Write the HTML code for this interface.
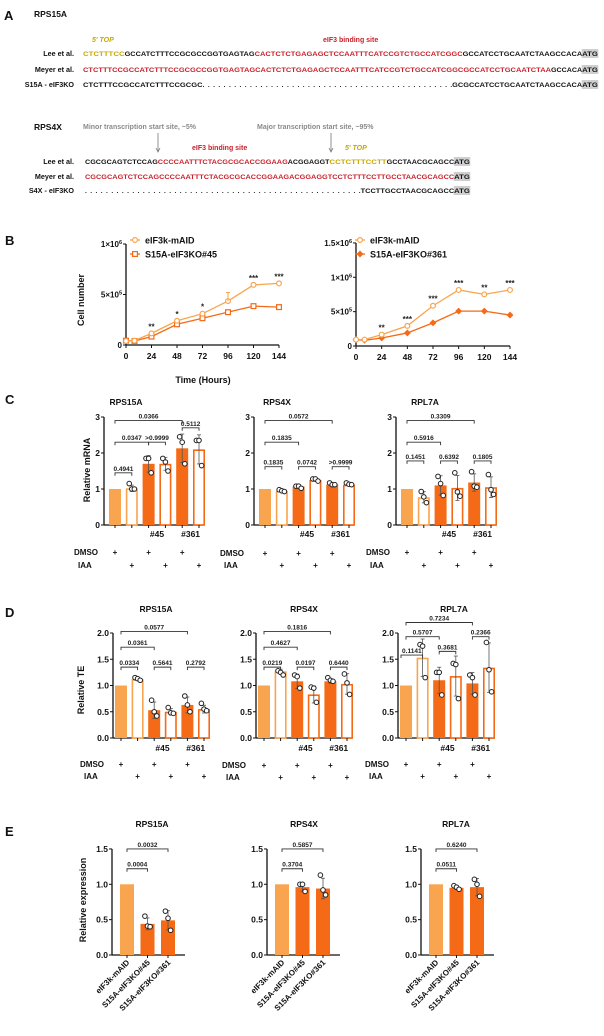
<!DOCTYPE html>
<html><head><meta charset="utf-8"><style>
html,body{margin:0;padding:0;background:#fff;}
svg{display:block;font-family:"Liberation Sans",Arial,sans-serif;font-weight:bold;}
</style></head><body>
<svg id="fig" width="604" height="1036" viewBox="0 0 604 1036" xmlns="http://www.w3.org/2000/svg"></svg>
<script>
// ---------- DATA ----------
const bTimes=[0,8,24,48,72,96,120,144];
const bLeftCtrl=[0.04,0.043,0.115,0.24,0.31,0.435,0.595,0.61];
const bLeftKO=[0.043,0.04,0.083,0.205,0.265,0.325,0.385,0.375];
const bRightCtrl=[0.093,0.093,0.166,0.293,0.586,0.816,0.752,0.816];
const bRightKO=[0.093,0.083,0.117,0.19,0.337,0.508,0.508,0.45];
const bLeftStars=[[24,'**'],[48,'*'],[72,'*'],[120,'***'],[144,'***']];
const bRightStars=[[24,'**'],[48,'***'],[72,'***'],[96,'***'],[120,'**'],[144,'***']];
const bTickLabels=['0','24','48','72','96','120','144'];

const cMeans15=[1,1.02,1.7,1.7,2.13,2.1];
const cPts15=[[1],[1.15,1.0,1.0],[1.85,1.85,1.45],[1.85,1.75,1.5],[2.45,2.3,1.7],[2.35,2.35,1.65]];
const cMeans4=[1,0.95,1.07,1.25,1.12,1.12];
const cPts4=[[1],[0.98,0.95,0.93],[1.08,1.08,1.02],[1.28,1.28,1.22],[1.17,1.12,1.12],[1.17,1.13,1.12]];
const cMeans7=[1,0.77,1.1,1.03,1.18,1.05];
const cPts7=[[1],[0.93,0.78,0.62],[1.35,1.15,0.82],[1.45,0.92,0.8],[1.48,1.08,1.05],[1.4,0.98,0.85]];
const cBr15=[[0,4,2.9,'0.0366'],[4,5,2.7,'0.5112'],[0,2,2.3,'0.0347'],[2,3,2.3,'>0.9999'],[0,1,1.45,'0.4941']];
const cBr4=[[0,4,2.9,'0.0572'],[0,2,2.3,'0.1835'],[0,1,1.62,'0.1835'],[2,3,1.62,'0.0742'],[4,5,1.62,'>0.9999']];
const cBr7=[[0,4,2.9,'0.3309'],[0,2,2.3,'0.5916'],[0,1,1.78,'0.1451'],[2,3,1.78,'0.6392'],[4,5,1.78,'0.1805']];

const dMeans15=[1,1.12,0.53,0.5,0.63,0.55];
const dPts15=[[1],[1.15,1.13,1.1],[0.72,0.5,0.42],[0.58,0.48,0.47],[0.8,0.63,0.5],[0.66,0.55,0.52]];
const dMeans4=[1,1.27,1.08,0.83,1.08,1.03];
const dPts4=[[1],[1.28,1.25,1.2],[1.2,1.17,0.95],[0.97,0.95,0.68],[1.15,1.1,1.08],[1.22,1.05,0.83]];
const dMeans7=[1,1.53,1.1,1.18,1.04,1.34];
const dPts7=[[1],[1.78,1.75,1.15],[1.25,1.25,0.82],[1.42,1.4,0.75],[1.2,1.15,0.82],[1.82,1.3,0.88]];
const dBr15=[[0,4,2.03,'0.0577'],[0,2,1.73,'0.0361'],[0,1,1.35,'0.0334'],[2,3,1.35,'0.5641'],[4,5,1.35,'0.2792']];
const dBr4=[[0,4,2.03,'0.1816'],[0,2,1.73,'0.4627'],[0,1,1.35,'0.0219'],[2,3,1.35,'0.0197'],[4,5,1.35,'0.6440']];
const dBr7=[[0,4,2.2,'0.7234'],[0,2,1.93,'0.5707'],[2,3,1.65,'0.3681'],[4,5,1.93,'0.2366'],[-0.5,1,1.58,'0.1141']];

const eMeans15=[1,0.44,0.49];
const ePts15=[[1],[0.55,0.41,0.4],[0.62,0.52,0.35]];
const eMeans4=[1,0.96,0.94];
const ePts4=[[1],[1.0,1.0,0.9],[1.13,0.92,0.85]];
const eMeans7=[1,0.95,0.96];
const ePts7=[[1],[0.98,0.96,0.93],[1.07,1.0,0.83]];
const eBr15=[[0,2,1.5,'0.0032'],[0,1,1.22,'0.0004']];
const eBr4=[[0,2,1.5,'0.5857'],[0,1,1.22,'0.3704']];
const eBr7=[[0,2,1.5,'0.6240'],[0,1,1.22,'0.0511']];
const eCats=['eIF3k-mAID','S15A-eIF3KO#45','S15A-eIF3KO#361'];

// ---------- HELPERS ----------
const NS='http://www.w3.org/2000/svg';
const svg=document.getElementById('fig');
const LIGHT='#F9A44E', DARK='#F56A16';
function mk(tag,parent){const e=document.createElementNS(NS,tag);(parent||svg).appendChild(e);return e;}
function txt(parent,x,y,s,size,fill,anchor){
  const t=mk('text',parent);t.setAttribute('x',x);t.setAttribute('y',y);
  t.setAttribute('font-size',size);t.setAttribute('fill',fill||'#111');
  if(anchor)t.setAttribute('text-anchor',anchor);t.textContent=s;return t;}
function line(parent,x1,y1,x2,y2,col,w){
  const l=mk('line',parent);l.setAttribute('x1',x1);l.setAttribute('y1',y1);l.setAttribute('x2',x2);l.setAttribute('y2',y2);
  l.setAttribute('stroke',col||'#111');l.setAttribute('stroke-width',w||1);return l;}

// ---------- PANEL A ----------
const A=mk('g');
let t;
t=txt(A,4,20,'A',13,'#111');
t=txt(A,34,17,'RPS15A',8.5,'#111');
t=txt(A,34,130,'RPS4X',8.5,'#111');
const RED='#C8202A', YEL='#C9A800', GRAY='#8a8a8a';
t=txt(A,92,42,"5' TOP",7,YEL);t.setAttribute('font-style','italic');
t=txt(A,323,42,'eIF3 binding site',7,RED);
t=txt(A,83,129,'Minor transcription start site, ~5%',7,GRAY);
t=txt(A,257,129,'Major transcription start site, ~95%',7,GRAY);
t=txt(A,192,150,'eIF3 binding site',7,RED);
t=txt(A,345,150,"5' TOP",7,YEL);t.setAttribute('font-style','italic');
[[158],[331]].forEach(([x],i)=>{
  const g=mk('g',A);
  line(g,x,133,x,151,'#777',0.8);
  const p=mk('path',g);p.setAttribute('d',`M${x-2} ${148} L${x} ${152} L${x+2} ${148}`);p.setAttribute('fill','none');p.setAttribute('stroke','#777');p.setAttribute('stroke-width',0.8);
});
function seqRow(label,name,x0,y,pitch,segs){
  const g=mk('g',A);
  txt(g,74,y,label,7.2,'#111','end');
  let i=0;
  segs.forEach(([s,c,shade])=>{
    const x=x0+i*pitch;
    if(shade){const r=mk('rect',g);r.setAttribute('x',x-0.5);r.setAttribute('y',y-7);r.setAttribute('width',s.length*pitch+1);r.setAttribute('height',9);r.setAttribute('fill','#cfcfcf');}
    const tt=txt(g,x,y,s,6.6,c);tt.setAttribute('textLength',s.length*pitch);
    tt.setAttribute('lengthAdjust',s[0]==='.'?'spacing':'spacingAndGlyphs');
    i+=s.length;
  });
}
const P=5.2, K='#111';
seqRow('Lee et al.','rps15a-lee-seq',83,56,P,[['CTCTTTCC',YEL],['GCCATCTTTCCGCGCCGGTGAGTAG',K],['CACTCTCTGAGAGCTCCAATTTCATCCGTCTGCCATCGGC',RED],['GCCATCCTGCAATCTAAGCCACA',K],['ATG',K,1]]);
seqRow('Meyer et al.','rps15a-meyer-seq',83,72,P,[['CTCTTTCCGCCATCTTTCCGCGCCGGTGAGTAGCACTCTCTGAGAGCTCCAATTTCATCCGTCTGCCATCGGCGCCATCCTGCAATCTAA',RED],['GCCACA',K],['ATG',K,1]]);
seqRow('S15A - eIF3KO','rps15a-ko-seq',83,87,P,[['CTCTTTCCGCCATCTTTCCGCGC',K],['.'.repeat(48),K],['GCGCCATCCTGCAATCTAAGCCACA',K],['ATG',K,1]]);
seqRow('Lee et al.','rps4x-lee-seq',85,164,P,[['CGCGCAGTCTCCAG',K],['CCCCAATTTCTACGCGCACCGGAAG',RED],['ACGGAGGT',K],['CCTCTTTCCTT',YEL],['GCCTAACGCAGCC',K],['ATG',K,1]]);
seqRow('Meyer et al.','rps4x-meyer-seq',85,179,P,[['CGCGCAGTCTCCAGCCCCAATTTCTACGCGCACCGGAAGACGGAGGTCCTCTTTCCTTGCCTAACGCAGCC',RED],['ATG',K,1]]);
seqRow('S4X - eIF3KO','rps4x-ko-seq',85,193,P,[['.'.repeat(53),K],['TCCTTGCCTAACGCAGCC',K],['ATG',K,1]]);

// ---------- PANEL B ----------
t=txt(svg,5,245,'B',13,'#111');
t=txt(svg,0,0,'Cell number',9,'#111','middle');t.setAttribute('transform','translate(84,300) rotate(-90)');
t=txt(svg,203,383,'Time (Hours)',9,'#111','middle');
function lineChart(name,ax,axEnd,y0,pxPerM,yTicks,ctrl,ko,stars,koLabel,koShape){
  const g=mk('g');
  const X=v=>ax+v/144*(axEnd-ax), Y=v=>y0-v*pxPerM;
  const yTop=Y(yTicks[yTicks.length-1][0]);
  line(g,ax,yTop,ax,y0,'#111',1.3);line(g,ax,y0,axEnd,y0,'#111',1.3);
  yTicks.forEach(([v,base,exp])=>{
    line(g,ax-3,Y(v),ax,Y(v),'#111',1);
    const tt=txt(g,ax-4,Y(v)+3,base,8,'#111','end');
    if(exp){const sp=document.createElementNS(NS,'tspan');sp.setAttribute('font-size',5.5);sp.setAttribute('dy',-3);sp.textContent=exp;tt.appendChild(sp);}
    
  });
  bTickLabels.forEach(s=>{const v=+s;line(g,X(v),y0,X(v),y0+3,'#111',1);const tt=txt(g,X(v),y0+14,s,8.5,'#111','middle');});
  function series(vals,col,shape,sname){
    const sg=mk('g',g);
    const pl=mk('polyline',sg);pl.setAttribute('points',vals.map((v,i)=>X(bTimes[i])+','+Y(v)).join(' '));pl.setAttribute('fill','none');pl.setAttribute('stroke',col);pl.setAttribute('stroke-width',1.3);
    vals.forEach((v,i)=>{const x=X(bTimes[i]),y=Y(v);let m;
      if(shape==='c'){m=mk('circle',sg);m.setAttribute('cx',x);m.setAttribute('cy',y);m.setAttribute('r',2.4);m.setAttribute('fill','#fff');}
      else if(shape==='s'){m=mk('rect',sg);m.setAttribute('x',x-2.4);m.setAttribute('y',y-2.4);m.setAttribute('width',4.8);m.setAttribute('height',4.8);m.setAttribute('fill','#fff');}
      else {m=mk('path',sg);m.setAttribute('d',`M${x} ${y-2.6}L${x+2.6} ${y}L${x} ${y+2.6}L${x-2.6} ${y}Z`);m.setAttribute('fill',col);}
      m.setAttribute('stroke',col);m.setAttribute('stroke-width',1.2);
      });
    return sg;}
  series(ko,DARK,koShape,'ko-series');
  series(ctrl,LIGHT,'c','control-series');
  stars.forEach(([tm,s])=>{const i=bTimes.indexOf(tm);const v=Math.max(ctrl[i],ko[i]);const tt=txt(g,X(tm),Y(v)-4,s,8,'#222','middle');});
  const lg=mk('g',g);
  const lx=ax+(name==='b-left-chart'?9:4);
  [[240,LIGHT,'c','eIF3k-mAID'],[254,DARK,koShape,koLabel]].forEach(([ly,col,sh,lab])=>{
    const e=mk('g',lg);
    line(e,lx-5,ly,lx+5,ly,col,1.3);
    let m;
    if(sh==='c'){m=mk('circle',e);m.setAttribute('cx',lx);m.setAttribute('cy',ly);m.setAttribute('r',2.4);m.setAttribute('fill','#fff');}
    else if(sh==='s'){m=mk('rect',e);m.setAttribute('x',lx-2.4);m.setAttribute('y',ly-2.4);m.setAttribute('width',4.8);m.setAttribute('height',4.8);m.setAttribute('fill','#fff');}
    else {m=mk('path',e);m.setAttribute('d',`M${lx} ${ly-2.6}L${lx+2.6} ${ly}L${lx} ${ly+2.6}L${lx-2.6} ${ly}Z`);m.setAttribute('fill',col);}
    m.setAttribute('stroke',col);m.setAttribute('stroke-width',1.2);
    txt(e,lx+10,ly+3.5,lab,9,'#111');
  });
  return {g,X,Y};
}
const bl=lineChart('b-left-chart',126,279,345,101,[[0,'0'],[0.5,'5×10','5'],[1,'1×10','6']],bLeftCtrl,bLeftKO,bLeftStars,'S15A-eIF3KO#45','s');
(function(){const i=bTimes.indexOf(96);const x=bl.X(96);line(bl.g,x,bl.Y(bLeftCtrl[i]),x,bl.Y(bLeftCtrl[i]+0.085),LIGHT,1);line(bl.g,x-2,bl.Y(bLeftCtrl[i]+0.085),x+2,bl.Y(bLeftCtrl[i]+0.085),LIGHT,1);})();
lineChart('b-right-chart',356,510,346,68.7,[[0,'0'],[0.5,'5×10','5'],[1,'1×10','6'],[1.5,'1.5×10','6']],bRightCtrl,bRightKO,bRightStars,'S15A-eIF3KO#361','d');

// ---------- BAR CHARTS ----------
function sd(a){if(a.length<2)return 0;const m=a.reduce((s,v)=>s+v,0)/a.length;return Math.sqrt(a.reduce((s,v)=>s+(v-m)*(v-m),0)/(a.length-1));}
function barChart(cfg){
  const g=mk('g');
  const Y=v=>cfg.y0-v*cfg.unit, BX=i=>cfg.ax+cfg.off+i*cfg.step;
  const yTop=Y(cfg.ticks[cfg.ticks.length-1]);
  line(g,cfg.ax,yTop,cfg.ax,cfg.y0,'#111',1.3);line(g,cfg.ax,cfg.y0,cfg.ax+cfg.len,cfg.y0,'#111',1.3);
  cfg.ticks.forEach((v,k)=>{line(g,cfg.ax-3,Y(v),cfg.ax,Y(v),'#111',1);const tt=txt(g,cfg.ax-4,Y(v)+3,cfg.tickLabels[k],8.5,'#111','end');});
  const tt=txt(g,cfg.titleX,cfg.titleY,cfg.title,8.5,'#111','middle');
  cfg.means.forEach((m,i)=>{
    const x=BX(i), style=cfg.styles[i];
    const r=mk('rect',g);
    
    
    const col=style[0]==='L'?LIGHT:DARK;
    if(style[1]==='f'){r.setAttribute('x',x-cfg.bw/2);r.setAttribute('y',Y(m));r.setAttribute('width',cfg.bw);r.setAttribute('height',cfg.y0-Y(m));r.setAttribute('fill',col);}
    else{r.setAttribute('x',x-cfg.bw/2+0.8);r.setAttribute('y',Y(m)+0.8);r.setAttribute('width',cfg.bw-1.6);r.setAttribute('height',Math.max(0,cfg.y0-Y(m)-0.8));r.setAttribute('fill','#fff');r.setAttribute('stroke',col);r.setAttribute('stroke-width',1.6);}
    const pts=cfg.pts[i];const s=sd(pts);
    if(s>0){line(g,x,Y(m-s),x,Y(m+s),'#555',0.8);line(g,x-2,Y(m+s),x+2,Y(m+s),'#555',0.8);line(g,x-2,Y(m-s),x+2,Y(m-s),'#555',0.8);}
    if(pts.length>1)pts.forEach((v,k)=>{const c=mk('circle',g);c.setAttribute('cx',x+(k-1)*2.6);c.setAttribute('cy',Y(v));c.setAttribute('r',2.3);c.setAttribute('fill','#fff');c.setAttribute('stroke','#222');c.setAttribute('stroke-width',1);
      
      });
    line(g,x,cfg.y0,x,cfg.y0+3,'#111',1);
  });
  cfg.brackets.forEach(([i,j,v,lab])=>{
    const bg=mk('g',g);
    const x1=i<0?cfg.ax+3:BX(i), x2=BX(j), y=Y(v);
    const p=mk('path',bg);p.setAttribute('d',`M${x1} ${y+3}V${y}H${x2}V${y+3}`);p.setAttribute('fill','none');p.setAttribute('stroke','#333');p.setAttribute('stroke-width',0.9);
    txt(bg,(x1+x2)/2,y-2,lab,6.5,'#222','middle');
  });
  if(cfg.cond){
    const c=cfg.cond;
    let q=txt(g,(BX(2)+BX(3))/2,c.hashY,'#45',8.5,'#111','middle');
    q=txt(g,(BX(4)+BX(5))/2,c.hashY,'#361',8.5,'#111','middle');
    q=txt(g,c.lx,c.dY,'DMSO',8,'#111');
    q=txt(g,c.lx+4,c.iY,'IAA',8,'#111');
    [0,2,4].forEach(i=>{const p=txt(g,BX(i),c.dY,'+',8,'#111','middle');});
    [1,3,5].forEach(i=>{const p=txt(g,BX(i),c.iY,'+',8,'#111','middle');});
  }
  if(cfg.cats){
    cfg.cats.forEach((s,i)=>{const x=BX(i)+3,y=cfg.y0+8;const q=txt(g,0,0,s,8,'#111','end');q.setAttribute('transform',`translate(${x},${y}) rotate(-45)`);});
  }
  return g;
}
const six=['Lf','Lo','Df','Do','Df','Do'];
// Panel C
t=txt(svg,5,404,'C',13,'#111');
t=txt(svg,0,0,'Relative mRNA',9,'#111','middle');t.setAttribute('transform','translate(90,470) rotate(-90)');
const cBase={y0:525,unit:36,ticks:[0,1,2,3],tickLabels:['0','1','2','3'],off:11,step:16.8,bw:12,len:100,titleY:405,styles:six};
barChart(Object.assign({},cBase,{name:'c-rps15a-chart',ax:104,titleX:126,title:'RPS15A',means:cMeans15,pts:cPts15,brackets:cBr15,cond:{hashY:537,dY:555,iY:568,lx:74}}));
barChart(Object.assign({},cBase,{name:'c-rps4x-chart',ax:254,titleX:277,title:'RPS4X',means:cMeans4,pts:cPts4,brackets:cBr4,cond:{hashY:537,dY:556,iY:568,lx:220}}));
barChart(Object.assign({},cBase,{name:'c-rpl7a-chart',ax:396,titleX:425,title:'RPL7A',means:cMeans7,pts:cPts7,brackets:cBr7,cond:{hashY:537,dY:555,iY:568,lx:366}}));
// Panel D
t=txt(svg,5,617,'D',13,'#111');
t=txt(svg,0,0,'Relative TE',9,'#111','middle');t.setAttribute('transform','translate(84,690) rotate(-90)');
const dBase={y0:738,unit:52.5,ticks:[0,0.5,1,1.5,2],tickLabels:['0.0','0.5','1.0','1.5','2.0'],off:8,step:16.6,bw:12,len:97,titleY:612,styles:six};
barChart(Object.assign({},dBase,{name:'d-rps15a-chart',ax:113,titleX:156,title:'RPS15A',means:dMeans15,pts:dPts15,brackets:dBr15,cond:{hashY:751,dY:767,iY:779,lx:80}}));
barChart(Object.assign({},dBase,{name:'d-rps4x-chart',ax:256,titleX:304,title:'RPS4X',means:dMeans4,pts:dPts4,brackets:dBr4,cond:{hashY:751,dY:768,iY:780,lx:222}}));
barChart(Object.assign({},dBase,{name:'d-rpl7a-chart',ax:398,titleX:454,title:'RPL7A',means:dMeans7,pts:dPts7,brackets:dBr7,cond:{hashY:751,dY:767,iY:779,lx:365}}));
// Panel E
t=txt(svg,5,836,'E',13,'#111');
t=txt(svg,0,0,'Relative expression',9,'#111','middle');t.setAttribute('transform','translate(86,900) rotate(-90)');
const eBase={y0:955,unit:70.7,ticks:[0,0.5,1,1.5],tickLabels:['0.0','0.5','1.0','1.5'],off:15,step:20.5,bw:14,len:73,titleY:827,styles:['Lf','Df','Df'],cats:eCats};
barChart(Object.assign({},eBase,{name:'e-rps15a-chart',ax:112,titleX:152,title:'RPS15A',means:eMeans15,pts:ePts15,brackets:eBr15}));
barChart(Object.assign({},eBase,{name:'e-rps4x-chart',ax:267,titleX:304,title:'RPS4X',means:eMeans4,pts:ePts4,brackets:eBr4}));
barChart(Object.assign({},eBase,{name:'e-rpl7a-chart',ax:421,titleX:456,title:'RPL7A',means:eMeans7,pts:ePts7,brackets:eBr7}));
</script>
</body></html>
